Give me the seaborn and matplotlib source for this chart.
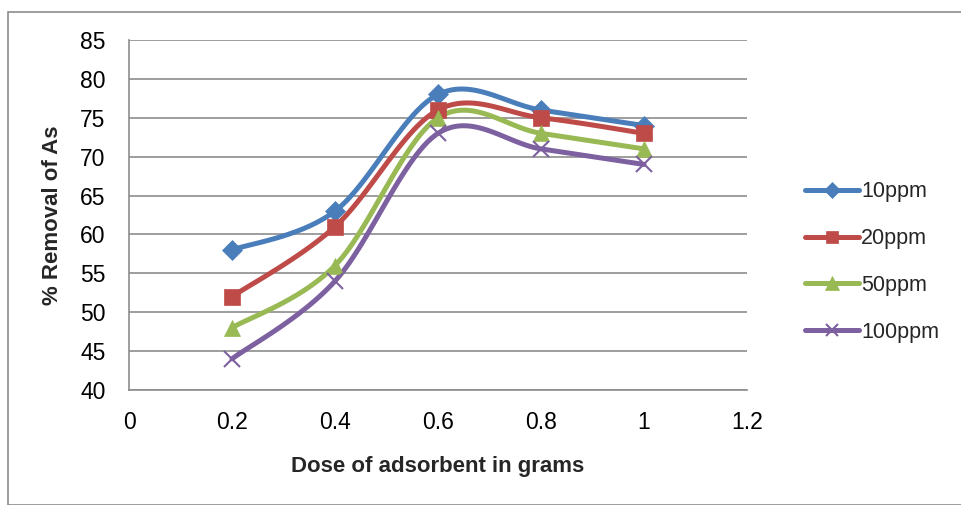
import numpy as np
import pandas as pd
import matplotlib
matplotlib.use("Agg")
import matplotlib.pyplot as plt
import seaborn as sns
from matplotlib.lines import Line2D
from matplotlib.patches import Rectangle

# Data
dose = [0.2, 0.4, 0.6, 0.8, 1.0]
ppm10 = [58, 63, 78, 76, 74]
ppm20 = [52, 61, 76, 75, 73]
ppm50 = [48, 56, 75, 73, 71]
ppm100 = [44, 54, 73, 71, 69]
series_names = ["10ppm", "20ppm", "50ppm", "100ppm"]
y_ticks = [40, 45, 50, 55, 60, 65, 70, 75, 80, 85]
x_ticks = [0, 0.2, 0.4, 0.6, 0.8, 1.0, 1.2]
x_tick_labels = ["0", "0.2", "0.4", "0.6", "0.8", "1", "1.2"]

colors = ["#4A7EBB", "#BE4B48", "#98B954", "#7D60A0"]
markers = ["D", "s", "^", "x"]
msizes = [10, 11, 12, 11]


def smooth(xs, ys, n=30):
    # Excel-style smoothed line (Bezier through the points)
    px = np.array(xs, float)
    py = np.array(ys, float)
    px = np.concatenate([[px[0]], px, [px[-1]]])
    py = np.concatenate([[py[0]], py, [py[-1]]])
    outx, outy = [], []
    for i in range(1, len(px) - 2):
        t = np.linspace(0, 1, n)
        for arr, out in ((px, outx), (py, outy)):
            p0, p1, p2, p3 = arr[i - 1], arr[i], arr[i + 1], arr[i + 2]
            c1 = p1 + (p2 - p0) / 6
            c2 = p2 - (p3 - p1) / 6
            out.extend((1 - t) ** 3 * p1 + 3 * (1 - t) ** 2 * t * c1
                       + 3 * (1 - t) * t ** 2 * c2 + t ** 3 * p2)
    return outx, outy


sns.set_style("white")
plt.rcParams["font.family"] = ["Liberation Sans Narrow", "Liberation Sans", "DejaVu Sans"]

fig = plt.figure(figsize=(9.61, 5.05), dpi=100)
fig.patches.append(Rectangle((8 / 961, 0), 1, 1 - 12 / 505, transform=fig.transFigure,
                             fill=False, edgecolor="#8c8c8c", linewidth=1.2))
ax = fig.add_axes([129 / 961, 1 - 390 / 505, (747 - 129) / 961, (390 - 40) / 505])

all_series = [ppm10, ppm20, ppm50, ppm100]
rows = []
for name, vals in zip(series_names, all_series):
    sx, sy = smooth(dose, vals)
    for a, b in zip(sx, sy):
        rows.append({"dose": a, "removal": b, "series": name})
df = pd.DataFrame(rows)

sns.lineplot(data=df, x="dose", y="removal", hue="series", palette=colors,
             units="series", estimator=None, sort=False, linewidth=3.6, ax=ax, legend=False)

for vals, c, m, ms in zip(all_series, colors, markers, msizes):
    ax.plot(dose, vals, linestyle="none", marker=m, markersize=ms, color=c,
            markeredgewidth=1.5 if m == "x" else 0.5, zorder=5)

ax.set_xlim(0, 1.2)
ax.set_ylim(40, 85)
ax.set_xticks(x_ticks)
ax.set_xticklabels(x_tick_labels)
ax.set_yticks(y_ticks)
ax.yaxis.grid(True, color="#8c8c8c", linewidth=1.2)
ax.set_axisbelow(True)
for s in ["top", "right"]:
    ax.spines[s].set_visible(False)
for s in ["left", "bottom"]:
    ax.spines[s].set_color("#8c8c8c")
    ax.spines[s].set_linewidth(1.2)
ax.tick_params(axis="both", direction="out", length=5, width=1.2, color="#8c8c8c",
               labelsize=16.5, labelcolor="black")
ax.tick_params(axis="y", pad=12)
ax.tick_params(axis="x", pad=10)

ax.set_xlabel("Dose of adsorbent in grams", fontsize=16, fontweight="bold", labelpad=16)
ax.set_ylabel("% Removal of As", fontsize=16, fontweight="bold", labelpad=12)

handles = [Line2D([0], [0], color=c, marker=m, markersize=ms * 0.85, linewidth=3.6,
                  markeredgewidth=1.5 if m == "x" else 0.5)
           for c, m, ms in zip(colors, markers, msizes)]
fig.legend(handles, series_names, loc="center left", bbox_to_anchor=(786 / 961, 1 - 262 / 505),
           frameon=False, fontsize=15.5, handlelength=2.5, handletextpad=0.1, labelspacing=1.2)

fig.savefig("out.png", dpi=100)
